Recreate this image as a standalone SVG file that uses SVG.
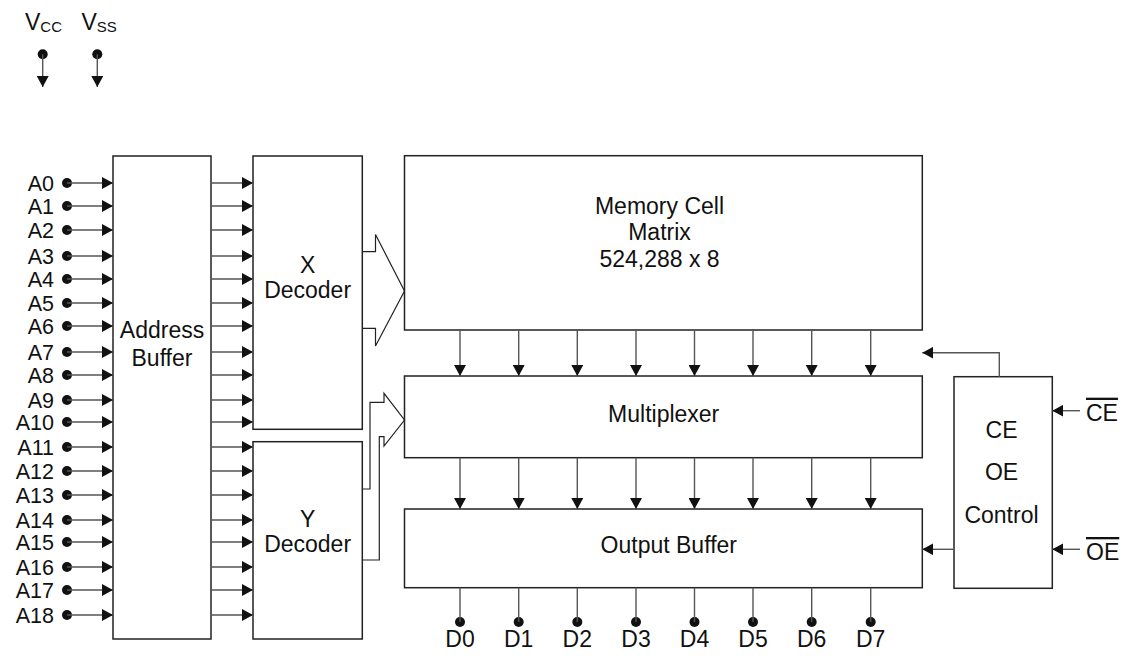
<svg xmlns="http://www.w3.org/2000/svg" width="1126" height="660" viewBox="0 0 1126 660">
<style>
text{font-family:"Liberation Sans",Arial,sans-serif;font-size:23px;fill:#111}
.box{fill:#fff;stroke:#222;stroke-width:1.5}
.c{fill:none;stroke:#555;stroke-width:1.4}
.h{fill:none;stroke:#222;stroke-width:1.2}
.m{text-anchor:middle}
.e{text-anchor:end;font-size:21.5px}
.sub{font-size:15px}
.dot{fill:#111}
</style>
<defs>
<marker id="ah" markerUnits="userSpaceOnUse" markerWidth="11" markerHeight="12" refX="11" refY="6" orient="auto" viewBox="0 0 11 12">
<path d="M0,0 L11,6 L0,12 z" fill="#111"/>
</marker>
</defs>

<g id="power">
<text x="25" y="30">V<tspan class="sub" dy="1.5">CC</tspan></text>
<text x="81.5" y="30">V<tspan class="sub" dy="1.5">SS</tspan></text>
<circle class="dot" cx="42.7" cy="54.3" r="5"/>
<circle class="dot" cx="97.3" cy="54.3" r="5"/>
</g>

<g id="address-buffer">
<rect class="box" x="113" y="156" width="98" height="483"/>
<text class="m" x="162" y="338">Address</text>
<text class="m" x="162" y="366">Buffer</text>
</g>

<g id="x-decoder">
<rect class="box" x="253" y="156" width="109.3" height="273.3"/>
<text class="m" x="307.6" y="272.7">X</text>
<text class="m" x="307.6" y="298.3">Decoder</text>
</g>

<g id="y-decoder">
<rect class="box" x="253" y="441.7" width="109.3" height="197.3"/>
<text class="m" x="307.6" y="526.7">Y</text>
<text class="m" x="307.6" y="552.3">Decoder</text>
</g>

<g id="memory-cell-matrix">
<rect class="box" x="404.5" y="155.7" width="517.8" height="174.3"/>
<text class="m" x="659.5" y="213.5">Memory Cell</text>
<text class="m" x="659.5" y="240">Matrix</text>
<text class="m" x="659.5" y="266.5">524,288 x 8</text>
</g>

<g id="multiplexer">
<rect class="box" x="404.5" y="376" width="517.8" height="81.7"/>
<text class="m" x="663.7" y="421.7">Multiplexer</text>
</g>

<g id="output-buffer">
<rect class="box" x="404.5" y="509" width="517.8" height="78.7"/>
<text class="m" x="668.8" y="553.3">Output Buffer</text>
</g>

<g id="control">
<rect class="box" x="954" y="376.7" width="98.3" height="211.6"/>
<text class="m" x="1001.5" y="438.3">CE</text>
<text class="m" x="1001.5" y="480">OE</text>
<text class="m" x="1001.5" y="523.3">Control</text>
</g>

<g id="address-labels">
<text class="e" x="54" y="190.5">A0</text>
<text class="e" x="54" y="213.5">A1</text>
<text class="e" x="54" y="237.5">A2</text>
<text class="e" x="54" y="263.5">A3</text>
<text class="e" x="54" y="286.5">A4</text>
<text class="e" x="54" y="310.5">A5</text>
<text class="e" x="54" y="333.5">A6</text>
<text class="e" x="54" y="359.5">A7</text>
<text class="e" x="54" y="382.5">A8</text>
<text class="e" x="54" y="407.5">A9</text>
<text class="e" x="54" y="429.5">A10</text>
<text class="e" x="54" y="454.5">A11</text>
<text class="e" x="54" y="478.5">A12</text>
<text class="e" x="54" y="502.5">A13</text>
<text class="e" x="54" y="527.5">A14</text>
<text class="e" x="54" y="549.5">A15</text>
<text class="e" x="54" y="574.5">A16</text>
<text class="e" x="54" y="597.5">A17</text>
<text class="e" x="54" y="622.5">A18</text>
</g>

<g id="address-dots">
<circle class="dot" cx="67" cy="183" r="5"/>
<circle class="dot" cx="67" cy="206" r="5"/>
<circle class="dot" cx="67" cy="230" r="5"/>
<circle class="dot" cx="67" cy="256" r="5"/>
<circle class="dot" cx="67" cy="279" r="5"/>
<circle class="dot" cx="67" cy="303" r="5"/>
<circle class="dot" cx="67" cy="326" r="5"/>
<circle class="dot" cx="67" cy="352" r="5"/>
<circle class="dot" cx="67" cy="375" r="5"/>
<circle class="dot" cx="67" cy="400" r="5"/>
<circle class="dot" cx="67" cy="422" r="5"/>
<circle class="dot" cx="67" cy="447" r="5"/>
<circle class="dot" cx="67" cy="471" r="5"/>
<circle class="dot" cx="67" cy="495" r="5"/>
<circle class="dot" cx="67" cy="520" r="5"/>
<circle class="dot" cx="67" cy="542" r="5"/>
<circle class="dot" cx="67" cy="567" r="5"/>
<circle class="dot" cx="67" cy="590" r="5"/>
<circle class="dot" cx="67" cy="615" r="5"/>
</g>

<g id="data-pins">
<circle class="dot" cx="460" cy="622" r="5"/>
<circle class="dot" cx="518.7" cy="622" r="5"/>
<circle class="dot" cx="577.3" cy="622" r="5"/>
<circle class="dot" cx="636" cy="622" r="5"/>
<circle class="dot" cx="694.5" cy="622" r="5"/>
<circle class="dot" cx="753" cy="622" r="5"/>
<circle class="dot" cx="811.7" cy="622" r="5"/>
<circle class="dot" cx="870.7" cy="622" r="5"/>
<text class="m" x="460" y="647">D0</text>
<text class="m" x="518.7" y="647">D1</text>
<text class="m" x="577.3" y="647">D2</text>
<text class="m" x="636" y="647">D3</text>
<text class="m" x="694.5" y="647">D4</text>
<text class="m" x="753" y="647">D5</text>
<text class="m" x="811.7" y="647">D6</text>
<text class="m" x="870.7" y="647">D7</text>
</g>

<g id="control-pins">
<text x="1086" y="420.7" style="text-decoration:overline">CE</text>
<text x="1086" y="560" style="text-decoration:overline">OE</text>
</g>

<g id="connectors">
<line class="c" x1="42.7" y1="54.3" x2="42.7" y2="87" marker-end="url(#ah)"/>
<line class="c" x1="97.3" y1="54.3" x2="97.3" y2="87" marker-end="url(#ah)"/>

<g id="address-inputs">
<line class="c" x1="67" y1="183" x2="113" y2="183" marker-end="url(#ah)"/>
<line class="c" x1="67" y1="206" x2="113" y2="206" marker-end="url(#ah)"/>
<line class="c" x1="67" y1="230" x2="113" y2="230" marker-end="url(#ah)"/>
<line class="c" x1="67" y1="256" x2="113" y2="256" marker-end="url(#ah)"/>
<line class="c" x1="67" y1="279" x2="113" y2="279" marker-end="url(#ah)"/>
<line class="c" x1="67" y1="303" x2="113" y2="303" marker-end="url(#ah)"/>
<line class="c" x1="67" y1="326" x2="113" y2="326" marker-end="url(#ah)"/>
<line class="c" x1="67" y1="352" x2="113" y2="352" marker-end="url(#ah)"/>
<line class="c" x1="67" y1="375" x2="113" y2="375" marker-end="url(#ah)"/>
<line class="c" x1="67" y1="400" x2="113" y2="400" marker-end="url(#ah)"/>
<line class="c" x1="67" y1="422" x2="113" y2="422" marker-end="url(#ah)"/>
<line class="c" x1="67" y1="447" x2="113" y2="447" marker-end="url(#ah)"/>
<line class="c" x1="67" y1="471" x2="113" y2="471" marker-end="url(#ah)"/>
<line class="c" x1="67" y1="495" x2="113" y2="495" marker-end="url(#ah)"/>
<line class="c" x1="67" y1="520" x2="113" y2="520" marker-end="url(#ah)"/>
<line class="c" x1="67" y1="542" x2="113" y2="542" marker-end="url(#ah)"/>
<line class="c" x1="67" y1="567" x2="113" y2="567" marker-end="url(#ah)"/>
<line class="c" x1="67" y1="590" x2="113" y2="590" marker-end="url(#ah)"/>
<line class="c" x1="67" y1="615" x2="113" y2="615" marker-end="url(#ah)"/>
</g>

<g id="buffer-to-decoders">
<line class="c" x1="211" y1="183" x2="253" y2="183" marker-end="url(#ah)"/>
<line class="c" x1="211" y1="206" x2="253" y2="206" marker-end="url(#ah)"/>
<line class="c" x1="211" y1="230" x2="253" y2="230" marker-end="url(#ah)"/>
<line class="c" x1="211" y1="256" x2="253" y2="256" marker-end="url(#ah)"/>
<line class="c" x1="211" y1="279" x2="253" y2="279" marker-end="url(#ah)"/>
<line class="c" x1="211" y1="303" x2="253" y2="303" marker-end="url(#ah)"/>
<line class="c" x1="211" y1="326" x2="253" y2="326" marker-end="url(#ah)"/>
<line class="c" x1="211" y1="352" x2="253" y2="352" marker-end="url(#ah)"/>
<line class="c" x1="211" y1="375" x2="253" y2="375" marker-end="url(#ah)"/>
<line class="c" x1="211" y1="400" x2="253" y2="400" marker-end="url(#ah)"/>
<line class="c" x1="211" y1="422" x2="253" y2="422" marker-end="url(#ah)"/>
<line class="c" x1="211" y1="447" x2="253" y2="447" marker-end="url(#ah)"/>
<line class="c" x1="211" y1="471" x2="253" y2="471" marker-end="url(#ah)"/>
<line class="c" x1="211" y1="495" x2="253" y2="495" marker-end="url(#ah)"/>
<line class="c" x1="211" y1="520" x2="253" y2="520" marker-end="url(#ah)"/>
<line class="c" x1="211" y1="542" x2="253" y2="542" marker-end="url(#ah)"/>
<line class="c" x1="211" y1="567" x2="253" y2="567" marker-end="url(#ah)"/>
<line class="c" x1="211" y1="590" x2="253" y2="590" marker-end="url(#ah)"/>
<line class="c" x1="211" y1="615" x2="253" y2="615" marker-end="url(#ah)"/>
</g>

<polyline class="h" points="362.3,251.7 375.5,251.7 375.5,234.5 404.5,291 375.5,346 375.5,328.3 362.3,328.3"/>
<polyline class="h" points="362.3,489 370,489 370,402.3 384,402.3 384,393.3 404.5,420 384,446 384,436.7 379.3,436.7 379.3,560 362.3,560"/>

<g id="memory-to-mux">
<line class="c" x1="460" y1="330" x2="460" y2="376" marker-end="url(#ah)"/>
<line class="c" x1="518.7" y1="330" x2="518.7" y2="376" marker-end="url(#ah)"/>
<line class="c" x1="577.3" y1="330" x2="577.3" y2="376" marker-end="url(#ah)"/>
<line class="c" x1="636" y1="330" x2="636" y2="376" marker-end="url(#ah)"/>
<line class="c" x1="694.5" y1="330" x2="694.5" y2="376" marker-end="url(#ah)"/>
<line class="c" x1="753" y1="330" x2="753" y2="376" marker-end="url(#ah)"/>
<line class="c" x1="811.7" y1="330" x2="811.7" y2="376" marker-end="url(#ah)"/>
<line class="c" x1="870.7" y1="330" x2="870.7" y2="376" marker-end="url(#ah)"/>
</g>

<g id="mux-to-output">
<line class="c" x1="460" y1="457.7" x2="460" y2="509" marker-end="url(#ah)"/>
<line class="c" x1="518.7" y1="457.7" x2="518.7" y2="509" marker-end="url(#ah)"/>
<line class="c" x1="577.3" y1="457.7" x2="577.3" y2="509" marker-end="url(#ah)"/>
<line class="c" x1="636" y1="457.7" x2="636" y2="509" marker-end="url(#ah)"/>
<line class="c" x1="694.5" y1="457.7" x2="694.5" y2="509" marker-end="url(#ah)"/>
<line class="c" x1="753" y1="457.7" x2="753" y2="509" marker-end="url(#ah)"/>
<line class="c" x1="811.7" y1="457.7" x2="811.7" y2="509" marker-end="url(#ah)"/>
<line class="c" x1="870.7" y1="457.7" x2="870.7" y2="509" marker-end="url(#ah)"/>
</g>

<g id="output-lines">
<line class="c" x1="460" y1="587.7" x2="460" y2="622"/>
<line class="c" x1="518.7" y1="587.7" x2="518.7" y2="622"/>
<line class="c" x1="577.3" y1="587.7" x2="577.3" y2="622"/>
<line class="c" x1="636" y1="587.7" x2="636" y2="622"/>
<line class="c" x1="694.5" y1="587.7" x2="694.5" y2="622"/>
<line class="c" x1="753" y1="587.7" x2="753" y2="622"/>
<line class="c" x1="811.7" y1="587.7" x2="811.7" y2="622"/>
<line class="c" x1="870.7" y1="587.7" x2="870.7" y2="622"/>
</g>

<polyline class="c" points="999.3,376.7 999.3,352.7 922.3,352.7" marker-end="url(#ah)"/>
<line class="c" x1="954" y1="549.3" x2="922.3" y2="549.3" marker-end="url(#ah)"/>
<line class="c" x1="1080" y1="410.7" x2="1052.3" y2="410.7" marker-end="url(#ah)"/>
<line class="c" x1="1080" y1="549.3" x2="1052.3" y2="549.3" marker-end="url(#ah)"/>
</g>
</svg>
